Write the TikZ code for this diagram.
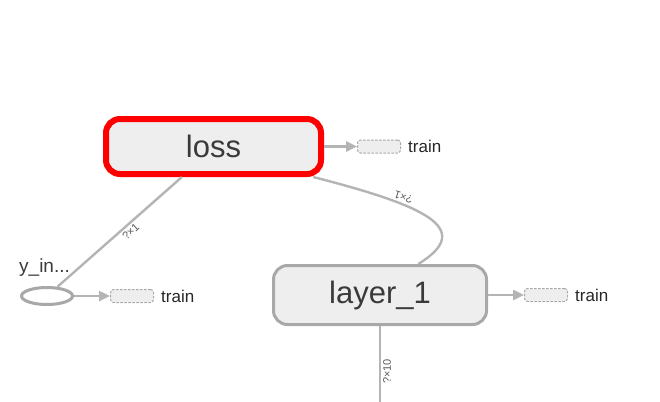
\documentclass[tikz,border=0pt]{standalone}
\usepackage{fontspec}
\setmainfont{Liberation Sans}
\usetikzlibrary{shapes.geometric,arrows.meta,positioning}
\definecolor{edgegrey}{HTML}{B4B4B4}
\definecolor{nodegrey}{HTML}{A8A8A8}
\definecolor{boxfill}{HTML}{EEEEEE}
\definecolor{textgrey}{HTML}{3A3A3A}
\begin{document}
\begin{tikzpicture}[x=1pt,y=-1pt,
  op/.style={rectangle,rounded corners=14pt,draw=nodegrey,line width=3pt,fill=boxfill,inner sep=0pt,text=textgrey,font=\fontsize{31}{36}\selectfont},
  stub/.style={rectangle,rounded corners=3pt,draw=nodegrey,dash pattern=on 2.5pt off 1.5pt,line width=1pt,fill=boxfill,minimum width=43pt,minimum height=13pt,inner sep=0pt},
  trainlbl/.style={inner sep=0pt,text=black!85,font=\fontsize{17}{20}\selectfont},
  edge/.style={draw=edgegrey,line width=2.4pt},
  elabel/.style={inner sep=2pt,text=black!65,font=\fontsize{11}{13}\selectfont}]
\useasboundingbox (0,0) rectangle (660,401);
\node[op,draw=red,line width=6pt,minimum width=215pt,minimum height=55pt] (loss) at (213.5,146.5) {loss};
\node[op,minimum width=213pt,minimum height=59pt] (layer) at (380,295) {layer\_1};
\node[ellipse,draw=nodegrey,line width=3pt,fill=white,minimum width=51pt,minimum height=17pt,inner sep=0pt] (yin) at (47,296) {};
\node[anchor=west,inner sep=0pt,text=textgrey,font=\fontsize{19}{22}\selectfont] (yinlbl) at (19,268) {y\_in...};
\coordinate (bot) at (380,402);
\foreach \src/\x/\y in {loss/357/146.5,yin/110/296,layer/524/295} {
  \node[stub,anchor=west] (t\src) at (\x,\y) {};
  \node[trainlbl,right=7pt of t\src] (l\src) {train};
  \draw[edge,-{Triangle[length=11pt,width=10pt]}] (\src) -- (t\src);
}
\draw[edge] (loss.224) -- node[pos=.45,rotate=43,anchor=north,elabel] {?×1} (yin);
\draw[edge] (loss.-17) .. controls (422,205) and (477,228) .. node[pos=.33,rotate=162,anchor=north,elabel] {?×1} (layer.39);
\draw[edge] (layer) -- node[pos=.6,rotate=90,anchor=north,elabel] {?×10} (bot);
\end{tikzpicture}
\end{document}
